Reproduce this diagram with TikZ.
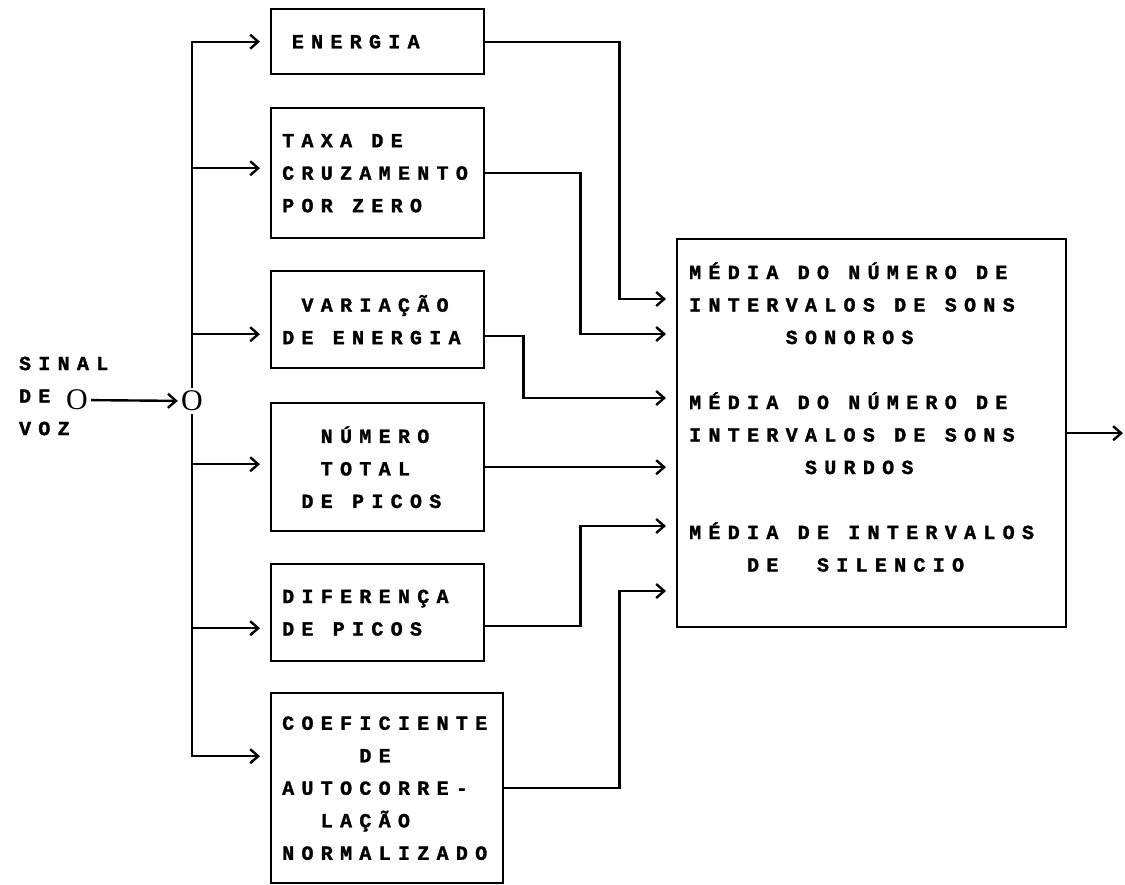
\documentclass[tikz,border=0pt]{standalone}
\usepackage{fontspec}
\usepackage{tikz}
\usetikzlibrary{arrows.meta,positioning}
\newfontfamily\printfont[LetterSpace=36.5,BoldFeatures={FakeBold=1.5}]{Liberation Mono}
\newfontfamily\ringfont{Liberation Serif}
\newlength\pitch
\setlength\pitch{9.65pt}
\newcommand\gap{\hspace*{\pitch}}

\begin{document}
\begin{tikzpicture}[
  x=0.5pt, y=-0.5pt,
  >={Straight Barb[length=4pt,width=7pt]},
  every node/.style={font=\printfont\bfseries\fontsize{10}{16.25}\selectfont},
  block/.style={rectangle, draw, line width=1.2pt, anchor=north west,
    inner xsep=5.5pt, inner ysep=0pt, text width=95.5pt, align=left},
  bigblock/.style={block, inner xsep=6pt, text width=182.5pt},
  ring/.style={font=\ringfont\fontsize{15}{15}\selectfont, inner sep=1.5pt},
  feed/.style={->, line width=1.2pt},
  feedin/.style={feed, shorten >=5pt},
]
\useasboundingbox (0,0) rectangle (1125,884);

% entrada
\node[anchor=west, align=left] (sinal) at (12,396) {SINAL\\DE\\VOZ};
\node[ring] (src) at (77,400) {O};
\node[ring] (junc) at (192,401) {O};

% blocos de parametros
\node[block, minimum height=32.5pt] (ener) at (270,8) {\hspace*{0.5\pitch}ENERGIA};
\node[block, minimum height=65pt] (taxa) at (270,107)
  {TAXA\gap DE\\CRUZAMENTO\\POR\gap ZERO};
\node[block, minimum height=48.5pt] (vari) at (270,270)
  {\gap VARIAÇÃO\\DE\gap ENERGIA};
\node[block, minimum height=64pt] (nume) at (270,402)
  {\gap\gap NÚMERO\\\gap\gap TOTAL\\\gap DE\gap PICOS};
\node[block, minimum height=48.5pt] (dife) at (270,563)
  {DIFERENÇA\\DE\gap PICOS};
\node[block, text width=105pt, minimum height=95pt] (coef) at (270,692)
  {COEFICIENTE\\\gap\gap\gap\gap DE\\AUTOCORRE-\\\gap\gap LAÇÃO\\NORMALIZADO};

% bloco de medias
\node[bigblock, minimum height=194pt] (media) at (676,238)
  {MÉDIA\gap DO\gap NÚMERO\gap DE\\INTERVALOS\gap DE\gap SONS\\
   \gap\gap\gap\gap\gap SONOROS\\\mbox{}\\
   MÉDIA\gap DO\gap NÚMERO\gap DE\\INTERVALOS\gap DE\gap SONS\\
   \gap\gap\gap\gap\gap\gap SURDOS\\\mbox{}\\
   MÉDIA\gap DE\gap INTERVALOS\\\gap\gap\gap DE\gap\gap SILENCIO\\\mbox{}};

\coordinate (in1) at (676,299);
\coordinate (in2) at (676,334);
\coordinate (in3) at (676,398);
\coordinate (in4) at (676,466);
\coordinate (in5) at (676,526);
\coordinate (in6) at (676,591);
\coordinate (out) at (1123,432);

% sinal -> derivacao
\draw[feed] (src) -- (junc);

% derivacao -> blocos
\draw[feedin] (junc.north) |- (ener.west);
\draw[feedin] (junc.north) |- ([yshift=2.5pt]taxa.west);
\draw[feedin] (junc.north) |- ([yshift=-7.25pt]vari.west);
\draw[feedin] (junc.south) |- ([yshift=1.5pt]nume.west);
\draw[feedin] (junc.south) |- ([yshift=-7.75pt]dife.west);
\draw[feedin] (junc.south) |- ([yshift=16pt]coef.west);

% blocos -> medias
\draw[feedin] (ener.east) -- ++(134,0) |- (in1);
\draw[feedin] (taxa.east) -- ++(95,0) |- (in2);
\draw[feedin] ([yshift=-8.25pt]vari.east) -- ++(38,0) |- (in3);
\draw[feedin] (nume.east) -- (nume.east -| in4);
\draw[feedin] ([yshift=-6.75pt]dife.east) -- ++(95,0) |- (in5);
\draw[feedin] (coef.east) -- ++(115,0) |- (in6);

% saida
\draw[feed] (media.east) -- (media.east -| out);

\end{tikzpicture}
\end{document}
